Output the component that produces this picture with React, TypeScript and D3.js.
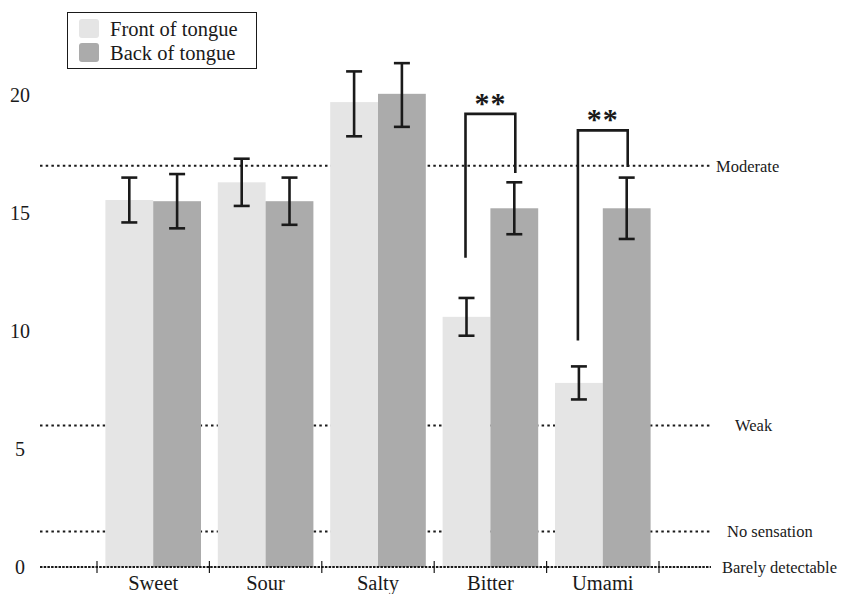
import * as d3 from 'd3';
import { useRef, useEffect } from 'react';

const tastes = ['Sweet', 'Sour', 'Salty', 'Bitter', 'Umami'];
const frontMeans = [15.55, 16.3, 19.7, 10.6, 7.8];
const frontLow = [14.6, 15.3, 18.25, 9.8, 7.1];
const frontHigh = [16.5, 17.3, 21.0, 11.4, 8.5];
const backMeans = [15.5, 15.5, 20.05, 15.2, 15.2];
const backLow = [14.35, 14.5, 18.65, 14.1, 13.9];
const backHigh = [16.65, 16.5, 21.35, 16.3, 16.5];
const yTicks = [0, 5, 10, 15, 20];
const levelNames = ['Moderate', 'Weak', 'No sensation', 'Barely detectable'];
const levelValues = [17, 6, 1.5, 0];
const levelLabelX = [716, 735, 727, 722];
// significance brackets: left leg bottom, right leg bottom, top
const sigTastes = ['Bitter', 'Umami'];
const sigLeftBottom = [13.1, 9.6];
const sigRightBottom = [16.7, 16.95];
const sigTop = [19.2, 18.5];
const seriesNames = ['Front of tongue', 'Back of tongue'];
const seriesColors = ['#e5e5e5', '#ababab'];

const W = 843;
const H = 594;
const FONT = 'Liberation Serif, Times New Roman, Times, serif';

const App = () => {
  const svgRef = useRef(null);

  useEffect(() => {
    const svg = d3.select(svgRef.current);
    svg.selectAll('*').remove();

    const x = d3.scaleBand().domain(tastes).range([97, 659]).paddingInner(0).paddingOuter(0);
    const y = d3.scaleLinear().domain([0, 20]).range([567, 95]);
    const pad = 8.4;
    const barW = (x.bandwidth() - pad * 2) / 2;
    const barX = (t, s) => x(t) + pad + s * barW;

    // dotted reference lines (behind bars)
    levelValues.forEach((v) => {
      if (v === 0) return;
      svg.append('line')
        .attr('x1', 40).attr('x2', 711)
        .attr('y1', y(v)).attr('y2', y(v))
        .attr('stroke', '#1a1a1a').attr('stroke-width', 2)
        .attr('stroke-dasharray', '2.5,3.2');
    });

    // bars
    const series = [
      { means: frontMeans, low: frontLow, high: frontHigh },
      { means: backMeans, low: backLow, high: backHigh },
    ];
    series.forEach((s, si) => {
      svg.append('g')
        .selectAll('rect')
        .data(tastes)
        .join('rect')
        .attr('x', (t) => barX(t, si))
        .attr('y', (t, i) => y(s.means[i]))
        .attr('width', barW)
        .attr('height', (t, i) => y(0) - y(s.means[i]))
        .attr('fill', seriesColors[si]);
    });

    // baseline (barely detectable) with ticks
    svg.append('line')
      .attr('x1', 40).attr('x2', 711)
      .attr('y1', y(0)).attr('y2', y(0))
      .attr('stroke', '#1a1a1a').attr('stroke-width', 2)
      .attr('stroke-dasharray', '2.5,1.2');
    const tickXs = tastes.map((t) => x(t)).concat([x(tastes[tastes.length - 1]) + x.bandwidth()]);
    tickXs.forEach((tx) => {
      svg.append('line')
        .attr('x1', tx).attr('x2', tx)
        .attr('y1', y(0) - 6).attr('y2', y(0) + 6)
        .attr('stroke', '#1a1a1a').attr('stroke-width', 1.2);
    });

    // error bars
    series.forEach((s, si) => {
      tastes.forEach((t, i) => {
        const cx = barX(t, si) + barW / 2;
        const g = svg.append('g').attr('stroke', '#1a1a1a').attr('stroke-width', 2.6);
        g.append('line').attr('x1', cx).attr('x2', cx).attr('y1', y(s.low[i])).attr('y2', y(s.high[i]));
        g.append('line').attr('x1', cx - 8).attr('x2', cx + 8).attr('y1', y(s.low[i])).attr('y2', y(s.low[i]));
        g.append('line').attr('x1', cx - 8).attr('x2', cx + 8).attr('y1', y(s.high[i])).attr('y2', y(s.high[i]));
      });
    });

    // significance brackets
    sigTastes.forEach((t, i) => {
      const lx = barX(t, 0) + barW / 2 - 1;
      const rx = barX(t, 1) + barW / 2 + 1;
      const path = d3.path();
      path.moveTo(lx, y(sigLeftBottom[i]));
      path.lineTo(lx, y(sigTop[i]));
      path.lineTo(rx, y(sigTop[i]));
      path.lineTo(rx, y(sigRightBottom[i]));
      svg.append('path')
        .attr('d', path.toString())
        .attr('fill', 'none')
        .attr('stroke', '#1a1a1a')
        .attr('stroke-width', 2.6);
      svg.append('text')
        .attr('x', (lx + rx) / 2)
        .attr('y', y(sigTop[i]) - 1)
        .attr('text-anchor', 'middle')
        .style('font-family', FONT)
        .attr('font-weight', 'bold')
        .attr('font-size', 30)
        .attr('letter-spacing', 1)
        .attr('fill', '#1a1a1a')
        .text('**');
    });

    // y tick labels
    svg.append('g')
      .selectAll('text')
      .data(yTicks)
      .join('text')
      .attr('x', 20)
      .attr('y', (d) => y(d))
      .attr('dy', '0.35em')
      .attr('text-anchor', 'middle')
      .style('font-family', FONT)
      .attr('font-size', 20)
      .attr('fill', '#1a1a1a')
      .text((d) => d);

    // category labels
    svg.append('g')
      .selectAll('text')
      .data(tastes)
      .join('text')
      .attr('x', (t) => x(t) + x.bandwidth() / 2)
      .attr('y', 590)
      .attr('text-anchor', 'middle')
      .style('font-family', FONT)
      .attr('font-size', 20.5)
      .attr('fill', '#1a1a1a')
      .text((t) => t);

    // level labels
    levelNames.forEach((n, i) => {
      svg.append('text')
        .attr('x', levelLabelX[i])
        .attr('y', y(levelValues[i]))
        .attr('dy', '0.35em')
        .style('font-family', FONT)
        .attr('font-size', 16.5)
        .attr('fill', '#1a1a1a')
        .text(n);
    });

    // legend
    const lg = svg.append('g');
    lg.append('rect')
      .attr('x', 67.5).attr('y', 12.5).attr('width', 189).attr('height', 56)
      .attr('fill', 'white').attr('stroke', '#1a1a1a').attr('stroke-width', 1);
    seriesNames.forEach((n, i) => {
      lg.append('rect')
        .attr('x', 79).attr('y', 19 + i * 24).attr('width', 20).attr('height', 19)
        .attr('rx', 3).attr('fill', seriesColors[i]);
      lg.append('text')
        .attr('x', 110).attr('y', 28.5 + i * 24)
        .attr('dy', '0.35em')
        .style('font-family', FONT)
        .attr('font-size', 20.5)
        .attr('fill', '#1a1a1a')
        .text(n);
    });
  }, []);

  return (
    <svg ref={svgRef} width={W} height={H} style={{ position: 'absolute', left: 0, top: 0, background: 'white' }} />
  );
};

export default App;
